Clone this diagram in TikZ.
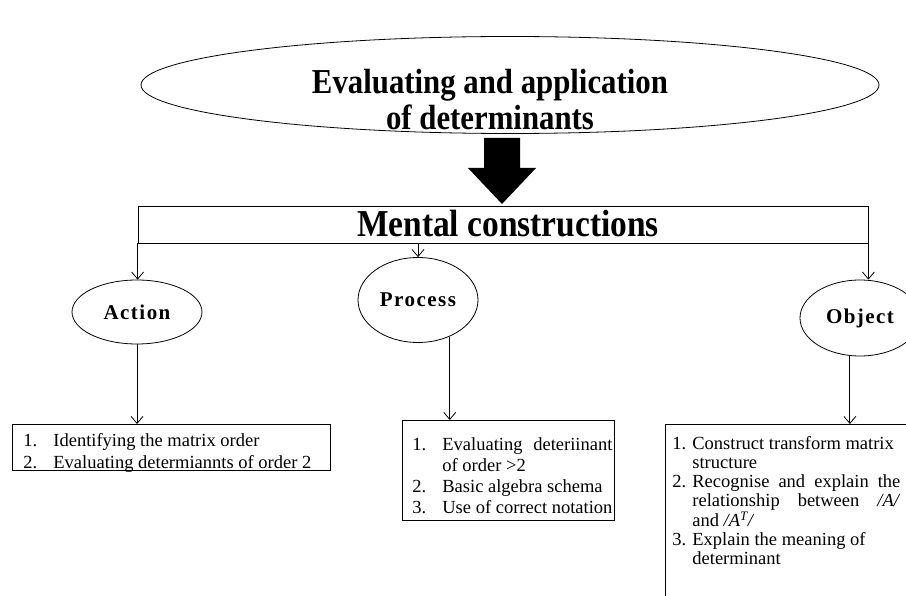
\documentclass[tikz,border=0pt]{standalone}
\usepackage{fontspec}
\setmainfont{Liberation Serif}
\newfontfamily\headfont{Liberation Serif}[FakeStretch=0.88]
\newfontfamily\labelfont{Liberation Serif}[LetterSpace=7]
\usetikzlibrary{shapes.geometric,arrows.meta}
\newcommand{\listsize}{\fontsize{18.5}{22}\selectfont}

\begin{document}
\begin{tikzpicture}[x=1pt,y=-1pt,line width=0.8pt,
  oval/.style={draw,ellipse,inner sep=0pt},
  stage/.style={oval,font=\labelfont\bfseries\fontsize{21}{24}\selectfont},
  listbox/.style={draw,rectangle,inner sep=0pt,anchor=north west},
  listtext/.style={inner sep=0pt,anchor=north west,align=left},
  conn/.style={-{Straight Barb[length=7pt,width=12pt]}}]
\useasboundingbox (0,0) rectangle (906,596);
\clip (0,0) rectangle (906,596);

\node[oval,minimum width=738pt,minimum height=97pt] (topic) at (510,85) {};
\node[align=center,font=\headfont\bfseries\fontsize{35}{36}\selectfont] (topictext) at (490,100) {Evaluating and application\\of determinants};

\node[draw,minimum width=730pt,minimum height=37pt,inner sep=0pt] (mental) at (503,224.5) {};
\node[font=\headfont\bfseries\fontsize{38}{40}\selectfont] (mentaltext) at (508,224) {Mental constructions};

\fill (484,138) -- (520,138) -- (520,168) -- (536,168) -- (502,204) -- (468,168) -- (484,168) -- cycle;

\node[stage,minimum width=130pt,minimum height=64pt] (action) at (137,312) {Action};
\node[stage,minimum width=120pt,minimum height=85pt] (process) at (418,300) {Process};
\node[stage,minimum width=120pt,minimum height=76pt] (object) at (860,318) {Object};

\node[listbox,minimum width=318pt,minimum height=46pt] (actlist) at (12,424) {};
\node[listtext,font=\listsize] (acttext) at (23,430.5) {\begin{tabular}{@{}p{30pt}@{}l@{}}
1. & Identifying the matrix order\\
2. & Evaluating determiannts of order 2
\end{tabular}};

\node[listbox,minimum width=212pt,minimum height=100pt] (proclist) at (402,420) {};
\node[listtext,font=\fontsize{18.5}{20.8}\selectfont] (proctext) at (412,436) {\begin{tabular}{@{}p{30pt}@{}p{170pt}@{}}
1. & \makebox[170pt][s]{Evaluating deteriinant}\\
 & of order >2\\
2. & Basic algebra schema\\
3. & Use of correct notation
\end{tabular}};

\node[listbox,minimum width=260pt,minimum height=200pt] (objlist) at (665,424) {};
\node[listtext,font=\fontsize{18.5}{19}\selectfont] (objtext) at (672,435.5) {\begin{tabular}{@{}p{20pt}@{}p{208pt}@{}}
1. & Construct transform matrix\\
 & structure\\
2. & \makebox[208pt][s]{Recognise and explain the}\\
 & \makebox[208pt][s]{relationship between \textit{/A/}}\\
 & and \textit{/A\textsuperscript{T}/}\\
3. & Explain the meaning of\\
 & determinant
\end{tabular}};

\draw[conn] (mental.south west) -- (mental.south west |- action.north);
\draw[conn] (process.north |- mental.south) -- (process.north);
\draw[conn] (mental.south east) -- (mental.south east |- object.north);
\draw[conn] (action.south) -- (action.south |- actlist.north);
\draw[conn] (process.-49) -- (process.-49 |- proclist.north);
\draw[conn] (object.-105) -- (object.-105 |- objlist.north);

\end{tikzpicture}
\end{document}
